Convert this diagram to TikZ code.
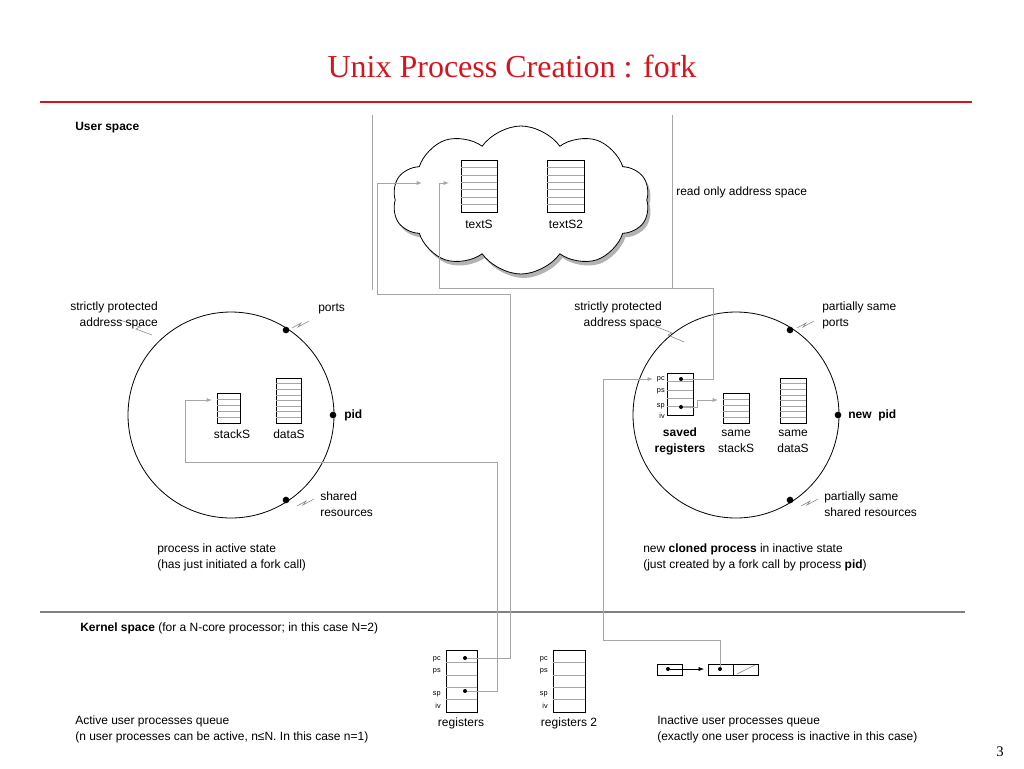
\documentclass[tikz,border=0pt]{standalone}
\usepackage{fontspec}
\setmainfont{Liberation Sans}
\newfontfamily\serifft{Liberation Serif}
\usetikzlibrary{shapes.symbols,shadows,arrows.meta}
\definecolor{titlered}{RGB}{215,20,30}
\newcommand{\stk}[5]{%
  \draw[semithick] (#1,#2) rectangle (#3,#4);
  \foreach \k in {1,...,#5}{\draw[gray!70] (#1,{#2+(#4-#2)*\k/(#5+1)}) -- (#3,{#2+(#4-#2)*\k/(#5+1)});}}
\newcommand{\zig}[1]{\draw[gray,thin] (#1) -- ++(9,-5) -- ++(-3,4) -- ++(11,-6);}
\begin{document}
\begin{tikzpicture}[x=0.75pt,y=-0.75pt,
  txt/.style={font=\fontsize{9}{12}\selectfont,inner sep=0pt,align=left},
  wire/.style={gray!70,line width=0.6pt},
  dotc/.style={circle,fill=black,inner sep=0pt,minimum size=3pt},
  bigdot/.style={circle,fill=black,inner sep=0pt,minimum size=5pt},
  arr/.style={-{Latex[length=4pt,width=3pt]}}]
\useasboundingbox (0,0) rectangle (1024,768);
\node[font=\serifft\fontsize{24}{28}\selectfont,text=titlered] (title) at (512,66) {Unix Process Creation : fork};
\draw[titlered,line width=0.8pt] (40,102) -- (972,102);
\draw[gray,line width=0.8pt] (40,612) -- (965,612);
\node[txt,font=\bfseries\fontsize{9}{12}\selectfont,anchor=west] (us) at (75,128) {User space};
% frame and cloud
\draw[wire] (372,115) -- (372,290) (672,115) -- (672,288);
\node[cloud,cloud puffs=10,cloud puff arc=110,aspect=1.7,draw,semithick,fill=white,drop shadow={opacity=0.6,shadow xshift=2pt,shadow yshift=-3pt},minimum width=193,minimum height=111] (cloud) at (521,200) {};
\stk{461}{160}{497}{212}{6}
\stk{547}{160}{584}{212}{6}
\node[txt] (ts) at (479,224) {textS};
\node[txt] (ts2) at (566,224) {textS2};
\node[txt,anchor=west] (ro) at (676,192) {read only address space};
% circles
\draw[semithick] (231,415) circle (103);
\draw[semithick] (736,415) circle (103);
\node[bigdot] (lp) at (286,330) {};
\node[bigdot] (lpid) at (333,415) {};
\node[bigdot] (lsr) at (286,500) {};
\node[bigdot] (rp) at (790,330) {};
\node[bigdot] (rpid) at (838,415) {};
\node[bigdot] (rsr) at (790,500) {};
\zig{292,328} \zig{297,506} \zig{797,328} \zig{801,506}
\draw[gray,thin] (120,320) -- ++(20,7) -- ++(-4,2) -- ++(16,6);
\draw[gray,thin] (652,325) -- ++(20,8) -- ++(-4,2) -- ++(16,7);
\node[txt,align=right,anchor=north east] (lsp) at (158,302) {strictly protected\\address space};
\node[txt,anchor=west] at (318,309) {ports};
\node[txt,anchor=west,font=\bfseries\fontsize{9}{12}\selectfont] at (344,415) {pid};
\node[txt,anchor=north west] at (320,492) {shared\\resources};
\node[txt,anchor=north west] at (157,544) {process in active state\\(has just initiated a fork call)};
\node[txt,align=right,anchor=north east] (rsp) at (662,302) {strictly protected\\address space};
\node[txt,anchor=north west] at (822,302) {partially same\\ports};
\node[txt,anchor=west,font=\bfseries\fontsize{9}{12}\selectfont] at (848,415) {new\ \ pid};
\node[txt,anchor=north west] at (824,492) {partially same\\shared resources};
\node[txt,anchor=north west] at (643,544) {new \textbf{cloned process} in inactive state\\(just created by a fork call by process \textbf{pid})};
% left process memory
\stk{217}{393}{240}{423}{4}
\stk{276}{378}{301}{423}{7}
\node[txt] at (232,434) {stackS};
\node[txt] at (289,434) {dataS};
% right process
\stk{667}{373}{693}{415}{4}
\stk{723}{393}{749}{423}{4}
\stk{780}{378}{806}{423}{7}
\foreach \t/\yy in {pc/379,ps/391,sp/406,iv/416}{\node[font=\fontsize{5.5}{6}\selectfont,inner sep=0pt,anchor=east] at (665,\yy) {\t};}
\node[dotc] (spc) at (681,379) {};
\node[dotc] (ssp) at (681,407) {};
\node[txt,align=center,font=\bfseries\fontsize{9}{12}\selectfont] at (680,441) {saved\\registers};
\node[txt,align=center] at (736,441) {same\\stackS};
\node[txt,align=center] at (793,441) {same\\dataS};
% kernel
\node[txt,anchor=west] at (80,628) {\textbf{Kernel space} (for a N-core processor; in this case N=2)};
\stk{446}{650}{477}{712}{4}
\stk{553}{650}{585}{712}{4}
\foreach \t/\yy in {pc/659,ps/671,sp/694,iv/706}{
  \node[font=\fontsize{5.5}{6}\selectfont,inner sep=0pt,anchor=east] at (441,\yy) {\t};
  \node[font=\fontsize{5.5}{6}\selectfont,inner sep=0pt,anchor=east] at (548,\yy) {\t};}
\node[dotc] (kpc) at (465,658) {};
\node[dotc] (ksp) at (465,691) {};
\node[txt] at (461,723) {registers};
\node[txt] at (569,723) {registers 2};
% queue
\draw[semithick] (657,664) rectangle (682,675);
\draw[semithick] (708,664) rectangle (758,675) (733,664) -- (733,675);
\draw[gray] (737,674) -- (755,665);
\node[dotc] (q1) at (668,669) {};
\node[dotc] (q2) at (720,669) {};
\draw[arr] (q1) -- (704,669);
\node[txt,anchor=north west] at (657,716) {Inactive user processes queue\\(exactly one user process is inactive in this case)};
\node[txt,anchor=north west] at (75,716) {Active user processes queue\\(n user processes can be active, n≤N. In this case n=1)};
\node[font=\serifft\fontsize{11}{12}\selectfont] at (1000,752) {3};
% connectors
\draw[wire,arr] (kpc) -- (510,658) -- (510,294) -- (377,294) -- (377,183) -- (422,183);
\draw[wire,arr] (spc) -- (713,379) -- (713,288) -- (439,288) -- (439,183) -- (449,183);
\draw[wire,arr] (ksp) -- (497,691) -- (497,462) -- (185,462) -- (185,400) -- (212,400);
\draw[wire,arr] (q2) -- (720,640) -- (603,640) -- (603,379) -- (653,379);
\draw[wire,arr] (ssp) -- (697,407) -- (697,400) -- (718,400);
\end{tikzpicture}
\end{document}
